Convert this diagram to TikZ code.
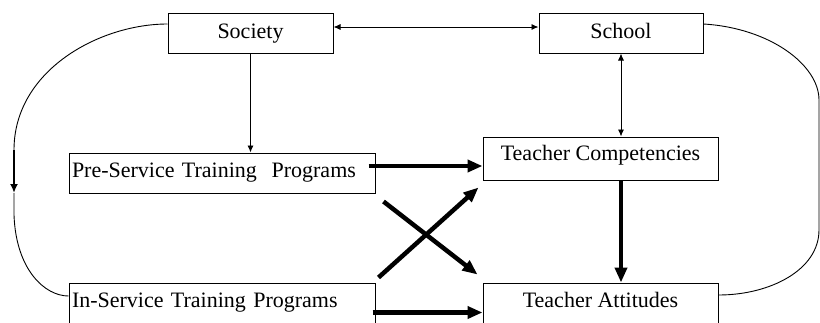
\documentclass[tikz,border=0pt]{standalone}
\usepackage{fontspec}
\setmainfont{Liberation Serif}
\usetikzlibrary{arrows.meta,calc}
\begin{document}
\begin{tikzpicture}[x=1pt,y=-1pt,
  box/.style={draw,line width=1pt,inner sep=0pt,font=\fontsize{22}{25}\selectfont},
  thinline/.style={line width=0.9pt},
  thinarr/.style={thinline,-{Latex[length=7pt,width=6pt]}},
  dblarr/.style={thinline,{Latex[length=7pt,width=6pt]}-{Latex[length=7pt,width=6pt]}},
  bigarr/.style={line width=4.5pt,-{Triangle[length=15pt,width=12pt]}}]
\clip (0,0) rectangle (820,322);
\fill[white] (0,0) rectangle (820,322);
% boxes
\node[box,minimum width=165pt,minimum height=40pt,text height=15pt,text depth=5pt] (soc) at (250.5,33) {Society};
\node[box,minimum width=164pt,minimum height=40pt,text height=15pt,text depth=5pt] (sch) at (621,33) {School};
\node[box,minimum width=306pt,minimum height=40pt,text width=300pt,align=left,text height=15pt,text depth=7pt] (pre) at (222,173) {Pre-Service Training\ \ Programs};
\node[box,minimum width=235pt,minimum height=43pt,text height=12pt,text depth=9pt] (tc) at (600.5,158.5) {Teacher Competencies};
\node[box,minimum width=306pt,minimum height=50pt,text width=300pt,align=left,text height=17pt,text depth=19pt] (ins) at (222,308) {In-Service Training Programs};
\node[box,minimum width=235pt,minimum height=50pt,text height=17pt,text depth=19pt] (ta) at (600.5,308) {Teacher Attitudes};
% thin connectors
\draw[dblarr] ([yshift=6pt]soc.east) -- ([yshift=6pt]sch.west);
\draw[thinarr] (soc.south) -- (soc.south |- pre.north);
\draw[dblarr] (sch.south) -- (sch.south |- tc.north);
% thick connectors
\draw[bigarr] (tc.south -| sch.south) -- (ta.north -| sch.south);
\coordinate (p1) at ([xshift=-7pt,yshift=7pt]pre.east);
\draw[bigarr] (p1) -- (p1 -| tc.west);
\coordinate (q1) at ([xshift=-3pt,yshift=-30pt]ins.north east);
\draw[bigarr] (q1) -- (q1 -| ta.west);
\draw[bigarr] ([xshift=8pt,yshift=-8pt]pre.south east) -- ([xshift=-5pt,yshift=8pt]ta.north west);
\draw[bigarr] ([xshift=3pt,yshift=5pt]ins.north east) -- ([xshift=-4pt,yshift=-7pt]tc.south west);
% left loop
\draw[thinline] ([yshift=9pt]soc.west) .. controls (100,24) and (14,70) .. (14,150) coordinate (l1);
\draw[line width=2pt,-{Latex[length=9pt,width=8pt]}] (l1) -- (14,193) coordinate (l2);
\draw[thinline] (l2) -- (14,215) .. controls (16,270) and (45,296) .. ([yshift=12pt]ins.west);
% right loop
\draw[thinline] ([yshift=9pt]sch.east) .. controls (770,28) and (819,65) .. (819,100) -- (819,230) .. controls (819,270) and (770,295) .. ([yshift=13pt]ta.east);
\end{tikzpicture}
\end{document}
